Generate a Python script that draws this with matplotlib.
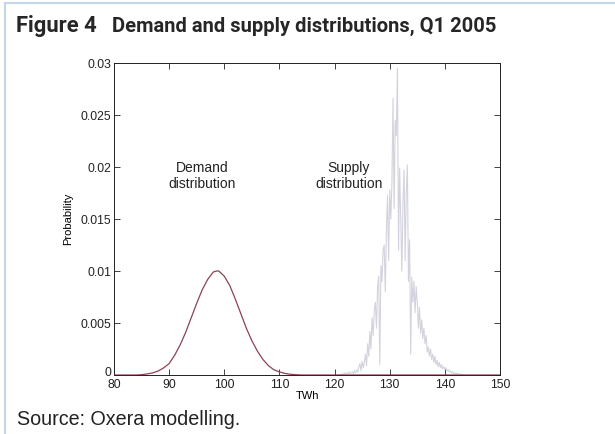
import numpy as np
import matplotlib
matplotlib.use("Agg")
import matplotlib.pyplot as plt
from matplotlib import font_manager as fm
from matplotlib.lines import Line2D
from matplotlib.transforms import ScaledTranslation

# ---------------- data ----------------
demand_x = [80, 84, 85, 86, 87, 88, 89, 90, 91, 92, 93, 94, 95, 96, 97, 98, 98.6, 99,
            100, 101, 102, 103, 104, 105, 106, 107, 108, 109, 110, 111, 112, 113, 114, 150]
demand_y = [0, 0, 0.00003, 0.00010, 0.00020, 0.00038, 0.00068, 0.00110, 0.0019, 0.0029,
            0.0041, 0.0055, 0.0069, 0.0082, 0.0092, 0.0099, 0.0100, 0.0100, 0.0095,
            0.0086, 0.0073, 0.0059, 0.0045, 0.0033, 0.0023, 0.0015, 0.0009, 0.0005,
            0.0003, 0.00015, 0.00007, 0.00003, 0, 0]

supply_start = 121.0
supply_step = 0.2
supply_y = [
    0, 0.0001, 0, 0.0001, 0.0002, 0.0001, 0.0002, 0.0001, 0.0003, 0.0001,
    0.0002, 0.0003, 0.0001, 0.0004, 0.0002, 0.0005, 0.0003, 0.0008, 0.0011, 0.0004,
    0.0013, 0.0007, 0.0012, 0.0020, 0.0009, 0.0030, 0.0018, 0.0042, 0.0025, 0.0055,
    0.0038, 0.0062, 0.0070, 0.0045, 0.0085, 0.0095, 0.0010, 0.0105, 0.0090, 0.0120,
    0.0125, 0.0080, 0.0140, 0.0173, 0.0110, 0.0178, 0.0150, 0.0185, 0.0266, 0.0160,
    0.0245, 0.0230, 0.0295, 0.0120, 0.0199, 0.0150, 0.0100, 0.0165, 0.0197, 0.0110,
    0.0175, 0.0202, 0.0090, 0.0130, 0.0020, 0.0094, 0.0070, 0.0090, 0.0060, 0.0085,
    0.0070, 0.0045, 0.0065, 0.0040, 0.0053, 0.0035, 0.0045, 0.0030, 0.0038, 0.0022,
    0.0027, 0.0018, 0.0025, 0.0015, 0.0020, 0.0012, 0.0018, 0.0010, 0.0014, 0.0008,
    0.0012, 0.0007, 0.0010, 0.0006, 0.0008, 0.0005, 0.0007, 0.0004, 0.0005, 0.0003,
    0.0004, 0.0002, 0.0003, 0.0001, 0.0002, 0.0001, 0.0002, 0.0001, 0.0001, 0,
    0.0001, 0,
]
supply_x = np.round(supply_start + supply_step * np.arange(len(supply_y)), 2)

x_ticks = [80, 90, 100, 110, 120, 130, 140, 150]
y_ticks = [0, 0.005, 0.01, 0.015, 0.02, 0.025, 0.03]
y_tick_labels = ["0", "0.005", "0.01", "0.015", "0.02", "0.025", "0.03"]

title_num = "Figure 4"
title_text = "Demand and supply distributions, Q1 2005"
source_text = "Source: Oxera modelling."

# ---------------- fonts ----------------
available = {f.name for f in fm.fontManager.ttflist}
def pick(names):
    for n in names:
        if n in available:
            return n
    return "DejaVu Sans"

sans = pick(["Liberation Sans", "Arial", "DejaVu Sans"])
title_font = pick(["Liberation Sans Narrow", "Roboto", "Open Sans", "DejaVu Sans"])
plt.rcParams["font.family"] = [sans, "DejaVu Sans"]

W, H = 615, 434
fig = plt.figure(figsize=(W / 100, H / 100), dpi=100)
fig.patch.set_facecolor("white")

ax = fig.add_axes([114 / W, 1 - 375 / H, (500 - 114) / W, (375 - 63) / H])

ax.plot(supply_x, supply_y, color="#d2d3dd", lw=0.8, zorder=2)
ax.plot(demand_x, demand_y, color="#8a4452", lw=0.9, zorder=3)

ax.set_xlim(80, 150)
ax.set_ylim(0, 0.03)
ax.set_xticks(x_ticks)
ax.set_xticklabels([str(t) for t in x_ticks])
ax.set_yticks(y_ticks)
ax.set_yticklabels(y_tick_labels)
ax.tick_params(direction="in", length=4, width=0.6, top=True, right=True,
               labelsize=8.8, colors="#222222", pad=2)
ax.tick_params(axis="x", pad=3)
for s in ax.spines.values():
    s.set_linewidth(0.7)
    s.set_color("#222222")
ax.set_xlabel("TWh", fontsize=8, labelpad=0)
ax.set_ylabel("Probability", fontsize=8, labelpad=5)

# nudge the y "0" label up slightly so it clears the x "80" label
ylab0 = ax.get_yticklabels()[0]
ylab0.set_transform(ylab0.get_transform() + ScaledTranslation(0, 3 / 100, fig.dpi_scale_trans))

ax.text(202 / W, 1 - 176 / H, "Demand\ndistribution", transform=fig.transFigure,
        ha="center", va="center", fontsize=10, linespacing=1.2, color="#222222")
ax.text(349 / W, 1 - 176 / H, "Supply\ndistribution", transform=fig.transFigure,
        ha="center", va="center", fontsize=10, linespacing=1.2, color="#222222")

# title and source, fitted to measured widths
def fitted_text(x_px, y_px, s, target_w, family, weight, color, size0):
    t = fig.text(x_px / W, 1 - y_px / H, s, fontsize=size0, family=family,
                 fontweight=weight, color=color, ha="left", va="baseline")
    r = fig.canvas.get_renderer()
    w = t.get_window_extent(renderer=r).width
    t.set_fontsize(size0 * target_w / w)
    return t

fitted_text(16, 32, title_num, 97 - 16, title_font, "bold", "#262626", 16)
fitted_text(112, 32, title_text, 497 - 112, title_font, "bold", "#262626", 16)
fitted_text(17, 425, source_text, 225, sans, "normal", "#222222", 14)

# light blue frame
frame_col = "#c6d6ea"
fig.add_artist(Line2D([4.5 / W, 4.5 / W], [0, 1 - 3 / H], transform=fig.transFigure,
                      color=frame_col, lw=1.5))
fig.add_artist(Line2D([4.5 / W, 1], [1 - 3 / H, 1 - 3 / H], transform=fig.transFigure,
                      color=frame_col, lw=1.5))

fig.savefig("out.png", dpi=100)
